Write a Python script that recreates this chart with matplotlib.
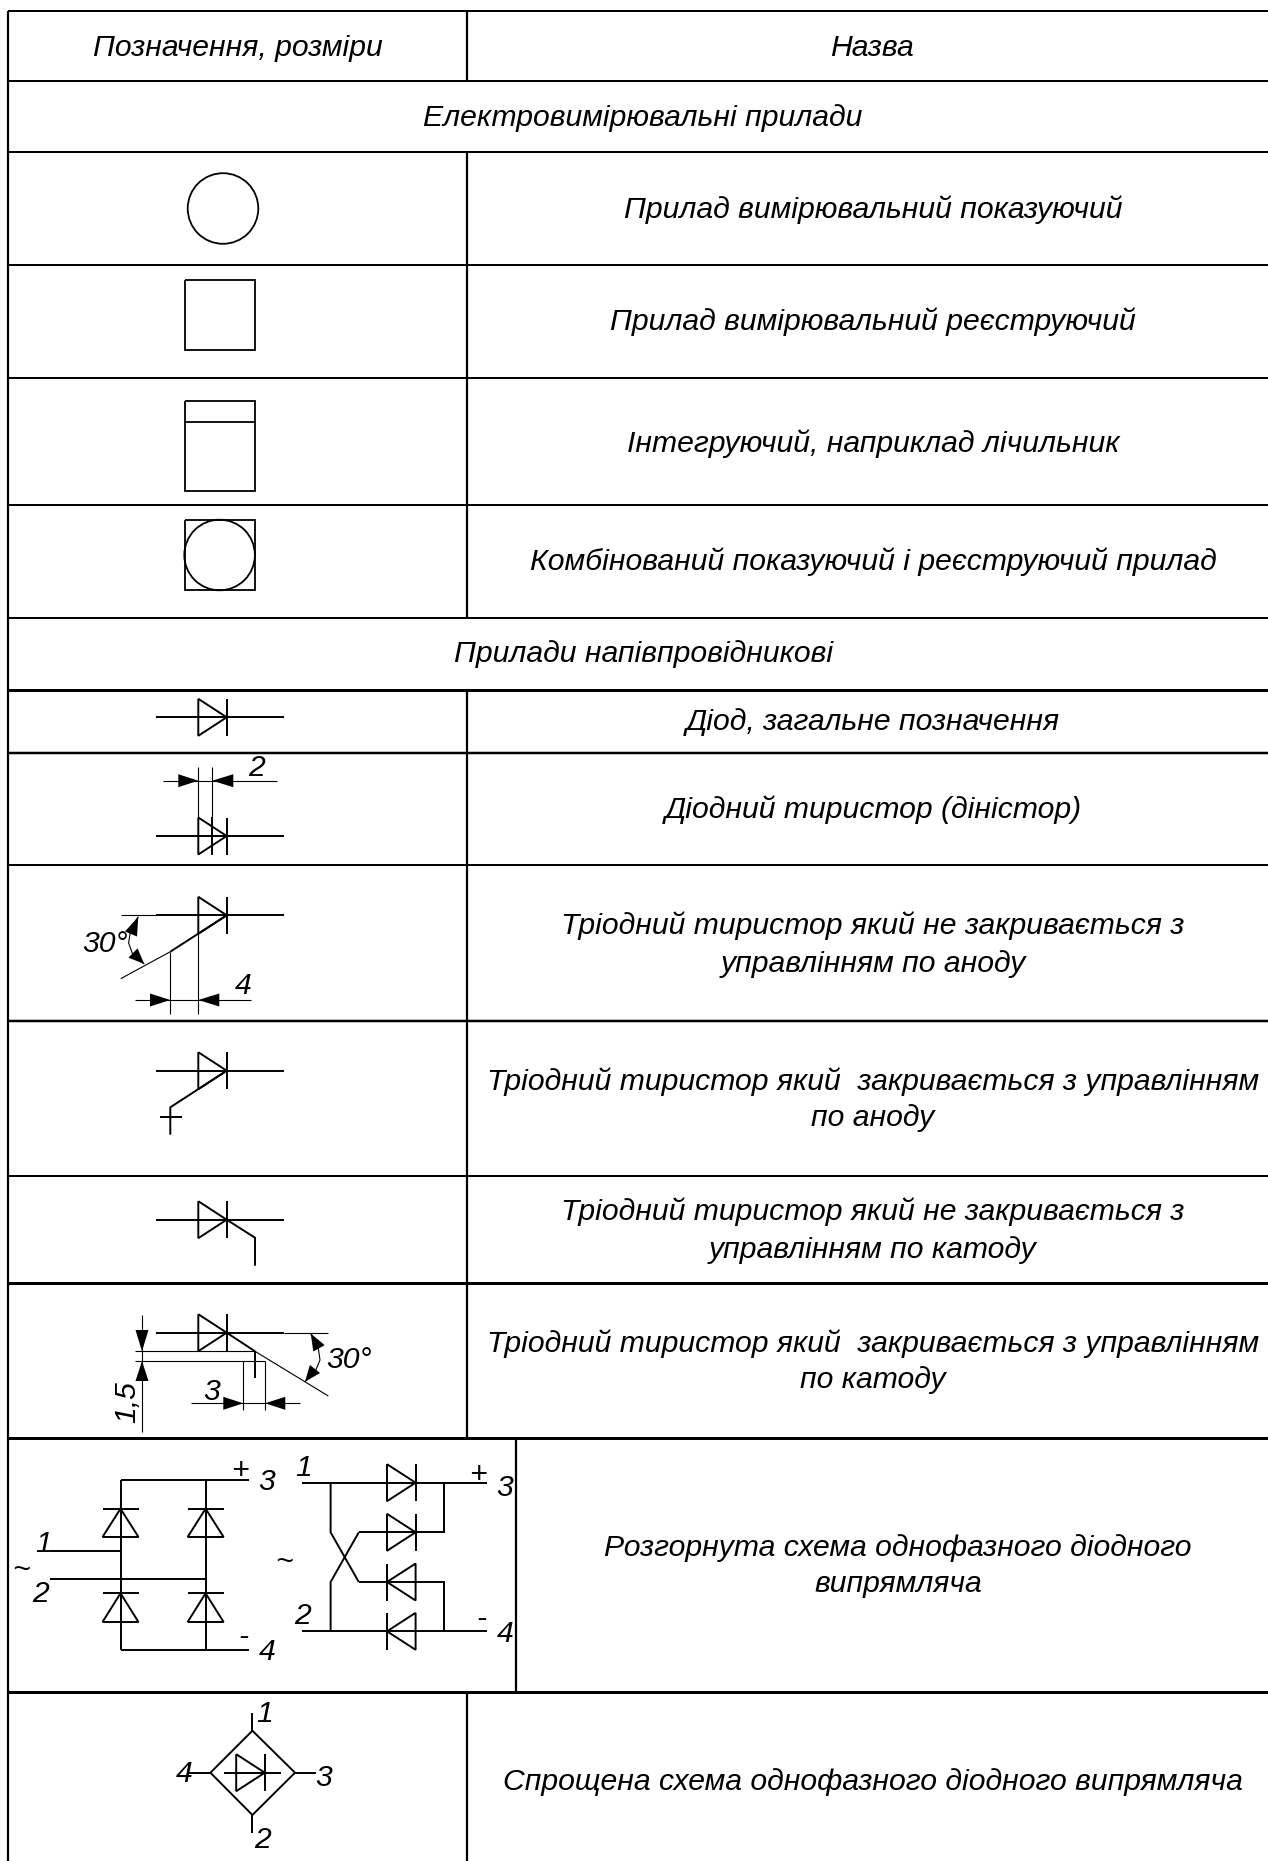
import matplotlib
matplotlib.use("Agg")
from matplotlib import pyplot as plt
from matplotlib.patches import Ellipse, Polygon

plt.rcParams['font.family'] = ['Liberation Sans', 'DejaVu Sans']

W, H = 1268, 1861

# table grid, in picture pixels
row_lines = [11, 81, 152, 265, 378, 505, 618, 690, 753, 865, 1021, 1176, 1283, 1438, 1692]
row_widths = [2, 2, 2, 2, 2, 2, 2, 3, 2.5, 2, 2.5, 2, 3, 3, 3]
col_lines = [(467, 11, 81), (467, 152, 618), (467, 690, 1438), (516, 1438, 1692), (467, 1692, 1861)]

# text of the table: (string, x centre, y centre)
headers = [("Позначення, розміри", 238, 45), ("Назва", 872, 45)]
sections = [("Електровимірювальні прилади", 643, 116), ("Прилади напівпровідникові", 644, 652)]
names = [
    ("Прилад вимірювальний показуючий", 873, 208),
    ("Прилад вимірювальний реєструючий", 873, 320),
    ("Інтегруючий, наприклад лічильник", 873, 441),
    ("Комбінований показуючий і реєструючий прилад", 873, 560),
    ("Діод, загальне позначення", 873, 720),
    ("Діодний тиристор (діністор)", 873, 808),
    ("Тріодний тиристор який не закривається з", 873, 924),
    ("управлінням по аноду", 873, 961),
    ("Тріодний тиристор який  закривається з управлінням", 873, 1080),
    ("по аноду", 873, 1116),
    ("Тріодний тиристор який не закривається з", 873, 1210),
    ("управлінням по катоду", 873, 1247),
    ("Тріодний тиристор який  закривається з управлінням", 873, 1341),
    ("по катоду", 873, 1377),
    ("Розгорнута схема однофазного діодного", 898, 1545),
    ("випрямляча", 898, 1582),
    ("Спрощена схема однофазного діодного випрямляча", 873, 1780),
]
# small labels on the symbols
sym_labels = [
    ("2", 257, 765), ("4", 243, 983), ("30°", 105, 942), ("3", 212, 1390), ("30°", 349, 1358),
    ("1", 44, 1541), ("2", 41, 1591), ("~", 21, 1568), ("+", 240, 1468), ("3", 267, 1479),
    ("-", 243, 1634), ("4", 267, 1650),
    ("1", 304, 1465), ("2", 303, 1613), ("~", 284, 1559), ("+", 478, 1473), ("3", 505, 1485),
    ("-", 481, 1617), ("4", 505, 1632),
    ("1", 265, 1711), ("4", 184, 1772), ("3", 324, 1775), ("2", 263, 1837),
]

# measuring instruments
circles = [(223, 208.5, 35.3), (219.6, 555, 35.3)]
boxes = [(184.5, 280, 255, 350), (184.5, 401, 255, 491), (184.5, 520, 255, 590)]
box_rule = (184.5, 255, 421.5)

# diodes: (base x, tip x, y centre), pointing right
row_diodes = [(198.3, 226.7, 717.3), (198.3, 226.7, 836), (198.3, 226.7, 915.3),
              (198.3, 226.7, 1070.7), (198.3, 226.7, 1219.7), (198.3, 226.7, 1332.7)]
row_wire = (155.7, 283.7)

# bridge symbols
bridge_up = [(120.5, 1508.7, 1537), (205.6, 1508.7, 1537), (120.5, 1593.3, 1622), (205.6, 1593.3, 1622)]
bridge_side = [(387, 415.6, 1482.7), (387, 415.6, 1532.3), (415.6, 387, 1582), (415.6, 387, 1631.3),
               (236.2, 264.8, 1772.7)]

# wires, thick
wires = [
    [(212.3, 817), (212.3, 854.7)],
    [(226.7, 915.3), (170.3, 951.7)],
    [(226.7, 1070.7), (170.3, 1107.3), (170.3, 1134.7)],
    [(160, 1117.3), (182.3, 1117.3)],
    [(226.7, 1219.7), (255, 1237.7), (255, 1265.7)],
    [(226.7, 1332.7), (255, 1351.3)],
    [(255, 1351.3), (255, 1378.3)],
    [(120.5, 1480), (248.6, 1480)],
    [(120.5, 1650), (248.6, 1650)],
    [(120.5, 1480), (120.5, 1650)],
    [(205.6, 1480), (205.6, 1650)],
    [(50, 1550.7), (120.5, 1550.7)],
    [(50, 1579), (205.6, 1579)],
    [(302, 1482.7), (487.3, 1482.7)],
    [(358.8, 1532.3), (443.9, 1532.3), (443.9, 1482.7)],
    [(358.8, 1582), (443.9, 1582), (443.9, 1631.3)],
    [(302, 1631.3), (487.3, 1631.3)],
    [(330.6, 1482.7), (330.6, 1532.3), (358.8, 1582)],
    [(330.6, 1631.3), (330.6, 1582), (358.8, 1532.3)],
    [(252.4, 1730.7), (295, 1772.7), (252.4, 1815), (210.4, 1772.7), (252.4, 1730.7)],
    [(252.4, 1713.3), (252.4, 1730.7)],
    [(252.4, 1815), (252.4, 1833.3)],
    [(189.4, 1772.7), (210.4, 1772.7)],
    [(295, 1772.7), (315.8, 1772.7)],
    [(223.8, 1772.7), (280.6, 1772.7)],
]
# dimension and extension lines, thin
thin_lines = [
    [(198.3, 766.7), (198.3, 817)],
    [(212.3, 766.7), (212.3, 817)],
    [(163, 780.7), (276.7, 780.7)],
    [(120.7, 915.3), (155.7, 915.3)],
    [(170.3, 951.7), (120.7, 978.7)],
    [(198.3, 934), (198.3, 1014.3)],
    [(170.3, 951.7), (170.3, 1014.3)],
    [(134.7, 1000), (250.7, 1000)],
    [(283.7, 1332.7), (328.3, 1332.7)],
    [(255, 1351.3), (328.3, 1396)],
    [(134.7, 1351.3), (255, 1351.3)],
    [(134.7, 1361), (265, 1361)],
    [(243.3, 1361), (243.3, 1410)],
    [(265, 1361), (265, 1410)],
    [(191, 1403.3), (300, 1403.3)],
    [(142, 1315), (142, 1431.7)],
    [(138.3, 916.7), (131, 928), (128.6, 943), (133, 955), (144.3, 964)],
    [(310.7, 1333.5), (318, 1346), (320, 1360), (315, 1372), (305, 1381.7)],
]
# arrow heads: (tip x, tip y, base centre x, base centre y)
arrows = [
    (198.3, 780.7, 178.3, 780.7), (212.3, 780.7, 233.3, 780.7),
    (170.3, 1000, 150, 1000), (198.3, 1000, 219.3, 1000),
    (138.3, 916.7, 131, 934), (144.3, 964, 133, 953),
    (243.3, 1403.3, 223.3, 1403.3), (265, 1403.3, 285.3, 1403.3),
    (142, 1351.3, 142, 1330), (142, 1361, 142, 1381),
    (310.7, 1333.5, 319, 1348.3), (305, 1381.7, 315, 1369),
]

font_size = 21.7
cap_half = 10.5


def draw(ax, pts, lw=1.5):
    xs = [p[0] for p in pts]
    ys = [p[1] for p in pts]
    ax.plot(xs, ys, color='black', lw=lw, solid_joinstyle='miter', solid_capstyle='butt')


def diode_h(ax, xb, xt, y, half=18.5):
    draw(ax, [(xb, y - half), (xt, y), (xb, y + half), (xb, y - half)], 1.4)
    draw(ax, [(xt, y - half), (xt, y + half)], 1.4)


def diode_v(ax, x, ytip, ybase, half=18):
    # points upwards, bar on the tip
    draw(ax, [(x - half, ybase), (x, ytip), (x + half, ybase), (x - half, ybase)], 1.4)
    draw(ax, [(x - half, ytip), (x + half, ytip)], 1.4)


def arrow(ax, xt, yt, xb, yb, half=6.5):
    dx, dy = xb - xt, yb - yt
    n = (dx ** 2 + dy ** 2) ** 0.5
    nx, ny = -dy / n * half, dx / n * half
    ax.add_patch(Polygon([(xt, yt), (xb + nx, yb + ny), (xb - nx, yb - ny)], closed=True,
                         facecolor='black', edgecolor='none'))


fig = plt.figure(figsize=(W / 100, H / 100), dpi=100)
ax = fig.add_axes([0, 0, 1, 1])
ax.set_xlim(0, W)
ax.set_ylim(H, 0)
ax.axis('off')

# grid
for y, w in zip(row_lines, row_widths):
    ax.plot([8, W], [y, y], color='black', lw=w * 0.72, solid_capstyle='butt')
ax.plot([8, 8], [11, H], color='black', lw=1.6, solid_capstyle='butt')
for x, y0, y1 in col_lines:
    ax.plot([x, x], [y0, y1], color='black', lw=1.6, solid_capstyle='butt')

# instruments
for x, y, r in circles:
    ax.add_patch(Ellipse((x, y), 2 * r, 2 * r, fill=False, edgecolor='black', lw=1.3))
for x0, y0, x1, y1 in boxes:
    draw(ax, [(x0, y0), (x1, y0), (x1, y1), (x0, y1), (x0, y0)], 1.3)
draw(ax, [(box_rule[0], box_rule[2]), (box_rule[1], box_rule[2])], 1.3)

# semiconductor symbols
for xb, xt, y in row_diodes:
    draw(ax, [(row_wire[0], y), (row_wire[1], y)], 1.4)
    diode_h(ax, xb, xt, y)
for x, ytip, ybase in bridge_up:
    diode_v(ax, x, ytip, ybase)
for xb, xt, y in bridge_side:
    diode_h(ax, xb, xt, y)
for pts in wires:
    draw(ax, pts, 1.4)
for pts in thin_lines:
    draw(ax, pts, 0.8)
for a in arrows:
    arrow(ax, *a)

# text
for s, x, y in headers + sections + names:
    ax.text(x, y + cap_half, s, ha='center', va='baseline', style='italic', fontsize=font_size)
for s, x, y in sym_labels:
    ax.text(x, y + cap_half, s, ha='center', va='baseline', style='italic', fontsize=font_size)
ax.text(127, 1402, "1,5", ha='center', va='center', style='italic', fontsize=font_size, rotation=90)

fig.savefig("out.png", dpi=100)
